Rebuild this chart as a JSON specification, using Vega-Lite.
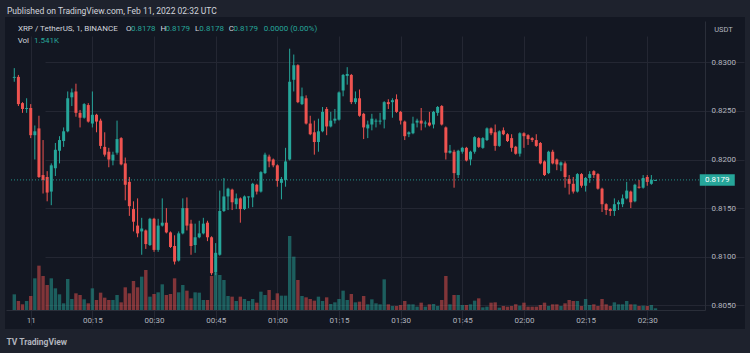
{
  "$schema": "https://vega.github.io/schema/vega-lite/v6.json",
  "width": 740,
  "height": 312,
  "autosize": "none",
  "padding": {"left": 5, "right": 5, "top": 17, "bottom": 24},
  "background": "#1e222d",
  "view": {"fill": "#131722", "stroke": null},
  "config": {"font": "Roboto"},
  "title": {"text": "Published on TradingView.com, Feb 11, 2022 02:32 UTC", "anchor": "start", "frame": "group", "offset": 4, "baseline": "bottom", "dx": 2, "dy": 11, "fontSize": 8.5, "fontWeight": "normal", "color": "#d1d4dc"},
  "data": {"values": [
    {"t":"2022-02-10T23:56:00Z","o":0.8284,"h":0.8294,"l":0.8280,"c":0.8285,"v":14.1},
    {"t":"2022-02-10T23:57:00Z","o":0.8285,"h":0.8287,"l":0.8255,"c":0.8257,"v":8.1},
    {"t":"2022-02-10T23:58:00Z","o":0.8258,"h":0.8259,"l":0.8248,"c":0.8252,"v":5.1},
    {"t":"2022-02-10T23:59:00Z","o":0.8252,"h":0.8263,"l":0.8248,"c":0.8253,"v":8.1},
    {"t":"2022-02-11T00:00:00Z","o":0.8253,"h":0.8257,"l":0.8222,"c":0.8225,"v":12.6},
    {"t":"2022-02-11T00:01:00Z","o":0.8225,"h":0.8235,"l":0.8200,"c":0.8229,"v":28.5},
    {"t":"2022-02-11T00:02:00Z","o":0.8232,"h":0.8245,"l":0.8181,"c":0.8182,"v":39.9},
    {"t":"2022-02-11T00:03:00Z","o":0.8184,"h":0.8220,"l":0.8165,"c":0.8179,"v":30.6},
    {"t":"2022-02-11T00:04:00Z","o":0.8182,"h":0.8188,"l":0.8157,"c":0.8166,"v":22.5},
    {"t":"2022-02-11T00:05:00Z","o":0.8167,"h":0.8196,"l":0.8153,"c":0.8194,"v":28.5},
    {"t":"2022-02-11T00:06:00Z","o":0.8191,"h":0.8217,"l":0.8183,"c":0.8210,"v":19.5},
    {"t":"2022-02-11T00:07:00Z","o":0.8209,"h":0.8224,"l":0.8196,"c":0.8220,"v":14.1},
    {"t":"2022-02-11T00:08:00Z","o":0.8219,"h":0.8233,"l":0.8213,"c":0.8229,"v":6},
    {"t":"2022-02-11T00:09:00Z","o":0.8229,"h":0.8270,"l":0.8228,"c":0.8263,"v":27.9},
    {"t":"2022-02-11T00:10:00Z","o":0.8264,"h":0.8273,"l":0.8255,"c":0.8269,"v":9.9},
    {"t":"2022-02-11T00:11:00Z","o":0.8270,"h":0.8278,"l":0.8244,"c":0.8248,"v":15},
    {"t":"2022-02-11T00:12:00Z","o":0.8248,"h":0.8251,"l":0.8233,"c":0.8243,"v":13.5},
    {"t":"2022-02-11T00:13:00Z","o":0.8243,"h":0.8258,"l":0.8242,"c":0.8257,"v":9.6},
    {"t":"2022-02-11T00:14:00Z","o":0.8256,"h":0.8258,"l":0.8238,"c":0.8239,"v":6},
    {"t":"2022-02-11T00:15:00Z","o":0.8237,"h":0.8270,"l":0.8233,"c":0.8246,"v":19.5},
    {"t":"2022-02-11T00:16:00Z","o":0.8246,"h":0.8247,"l":0.8228,"c":0.8239,"v":9},
    {"t":"2022-02-11T00:17:00Z","o":0.8240,"h":0.8242,"l":0.8211,"c":0.8214,"v":15.6},
    {"t":"2022-02-11T00:18:00Z","o":0.8213,"h":0.8228,"l":0.8203,"c":0.8205,"v":11.1},
    {"t":"2022-02-11T00:19:00Z","o":0.8208,"h":0.8212,"l":0.8192,"c":0.8200,"v":9},
    {"t":"2022-02-11T00:20:00Z","o":0.8199,"h":0.8208,"l":0.8194,"c":0.8205,"v":9},
    {"t":"2022-02-11T00:21:00Z","o":0.8207,"h":0.8240,"l":0.8205,"c":0.8221,"v":13.5},
    {"t":"2022-02-11T00:22:00Z","o":0.8222,"h":0.8223,"l":0.8194,"c":0.8195,"v":6.9},
    {"t":"2022-02-11T00:23:00Z","o":0.8196,"h":0.8202,"l":0.8158,"c":0.8174,"v":20.4},
    {"t":"2022-02-11T00:24:00Z","o":0.8177,"h":0.8182,"l":0.8142,"c":0.8152,"v":15},
    {"t":"2022-02-11T00:25:00Z","o":0.8149,"h":0.8157,"l":0.8126,"c":0.8136,"v":26.1},
    {"t":"2022-02-11T00:26:00Z","o":0.8132,"h":0.8160,"l":0.8120,"c":0.8124,"v":20.4},
    {"t":"2022-02-11T00:27:00Z","o":0.8126,"h":0.8140,"l":0.8102,"c":0.8129,"v":30},
    {"t":"2022-02-11T00:28:00Z","o":0.8127,"h":0.8128,"l":0.8108,"c":0.8113,"v":36},
    {"t":"2022-02-11T00:29:00Z","o":0.8112,"h":0.8140,"l":0.8111,"c":0.8139,"v":12},
    {"t":"2022-02-11T00:30:00Z","o":0.8139,"h":0.8140,"l":0.8105,"c":0.8107,"v":14.4},
    {"t":"2022-02-11T00:31:00Z","o":0.8107,"h":0.8139,"l":0.8105,"c":0.8132,"v":15.9},
    {"t":"2022-02-11T00:32:00Z","o":0.8132,"h":0.8160,"l":0.8131,"c":0.8135,"v":23.1},
    {"t":"2022-02-11T00:33:00Z","o":0.8135,"h":0.8150,"l":0.8124,"c":0.8125,"v":13.5},
    {"t":"2022-02-11T00:34:00Z","o":0.8125,"h":0.8126,"l":0.8109,"c":0.8110,"v":14.4},
    {"t":"2022-02-11T00:35:00Z","o":0.8111,"h":0.8122,"l":0.8092,"c":0.8095,"v":28.5},
    {"t":"2022-02-11T00:36:00Z","o":0.8096,"h":0.8126,"l":0.8095,"c":0.8124,"v":15.9},
    {"t":"2022-02-11T00:37:00Z","o":0.8124,"h":0.8160,"l":0.8123,"c":0.8150,"v":22.5},
    {"t":"2022-02-11T00:38:00Z","o":0.8150,"h":0.8161,"l":0.8127,"c":0.8132,"v":17.4},
    {"t":"2022-02-11T00:39:00Z","o":0.8134,"h":0.8138,"l":0.8102,"c":0.8111,"v":10.5},
    {"t":"2022-02-11T00:40:00Z","o":0.8112,"h":0.8134,"l":0.8104,"c":0.8120,"v":15.9},
    {"t":"2022-02-11T00:41:00Z","o":0.8120,"h":0.8137,"l":0.8119,"c":0.8124,"v":15.6},
    {"t":"2022-02-11T00:42:00Z","o":0.8124,"h":0.8140,"l":0.8123,"c":0.8134,"v":9},
    {"t":"2022-02-11T00:43:00Z","o":0.8135,"h":0.8137,"l":0.8116,"c":0.8120,"v":9},
    {"t":"2022-02-11T00:44:00Z","o":0.8120,"h":0.8121,"l":0.8081,"c":0.8083,"v":30.6},
    {"t":"2022-02-11T00:45:00Z","o":0.8084,"h":0.8114,"l":0.8081,"c":0.8104,"v":33.6},
    {"t":"2022-02-11T00:46:00Z","o":0.8102,"h":0.8168,"l":0.8101,"c":0.8147,"v":31.5},
    {"t":"2022-02-11T00:47:00Z","o":0.8147,"h":0.8181,"l":0.8146,"c":0.8162,"v":27},
    {"t":"2022-02-11T00:48:00Z","o":0.8162,"h":0.8171,"l":0.8148,"c":0.8170,"v":12.6},
    {"t":"2022-02-11T00:49:00Z","o":0.8169,"h":0.8170,"l":0.8148,"c":0.8156,"v":12},
    {"t":"2022-02-11T00:50:00Z","o":0.8154,"h":0.8165,"l":0.8149,"c":0.8160,"v":8.1},
    {"t":"2022-02-11T00:51:00Z","o":0.8160,"h":0.8161,"l":0.8135,"c":0.8149,"v":12},
    {"t":"2022-02-11T00:52:00Z","o":0.8149,"h":0.8163,"l":0.8148,"c":0.8162,"v":9.9},
    {"t":"2022-02-11T00:53:00Z","o":0.8161,"h":0.8162,"l":0.8150,"c":0.8162,"v":8.1},
    {"t":"2022-02-11T00:54:00Z","o":0.8161,"h":0.8176,"l":0.8151,"c":0.8175,"v":9.9},
    {"t":"2022-02-11T00:55:00Z","o":0.8174,"h":0.8175,"l":0.8164,"c":0.8167,"v":6.6},
    {"t":"2022-02-11T00:56:00Z","o":0.8167,"h":0.8188,"l":0.8166,"c":0.8187,"v":16.5},
    {"t":"2022-02-11T00:57:00Z","o":0.8186,"h":0.8207,"l":0.8185,"c":0.8205,"v":13.5},
    {"t":"2022-02-11T00:58:00Z","o":0.8203,"h":0.8205,"l":0.8192,"c":0.8198,"v":18},
    {"t":"2022-02-11T00:59:00Z","o":0.8200,"h":0.8201,"l":0.8192,"c":0.8194,"v":9},
    {"t":"2022-02-11T01:00:00Z","o":0.8194,"h":0.8195,"l":0.8172,"c":0.8178,"v":15},
    {"t":"2022-02-11T01:01:00Z","o":0.8176,"h":0.8182,"l":0.8159,"c":0.8180,"v":12.9},
    {"t":"2022-02-11T01:02:00Z","o":0.8179,"h":0.8212,"l":0.8172,"c":0.8198,"v":12.9},
    {"t":"2022-02-11T01:03:00Z","o":0.8200,"h":0.8314,"l":0.8199,"c":0.8280,"v":66.6},
    {"t":"2022-02-11T01:04:00Z","o":0.8282,"h":0.8308,"l":0.8270,"c":0.8297,"v":48},
    {"t":"2022-02-11T01:05:00Z","o":0.8297,"h":0.8298,"l":0.8258,"c":0.8259,"v":27},
    {"t":"2022-02-11T01:06:00Z","o":0.8257,"h":0.8274,"l":0.8256,"c":0.8265,"v":12.6},
    {"t":"2022-02-11T01:07:00Z","o":0.8263,"h":0.8266,"l":0.8236,"c":0.8237,"v":11.4},
    {"t":"2022-02-11T01:08:00Z","o":0.8237,"h":0.8245,"l":0.8225,"c":0.8226,"v":9.9},
    {"t":"2022-02-11T01:09:00Z","o":0.8228,"h":0.8240,"l":0.8205,"c":0.8218,"v":8.4},
    {"t":"2022-02-11T01:10:00Z","o":0.8218,"h":0.8242,"l":0.8208,"c":0.8229,"v":12},
    {"t":"2022-02-11T01:11:00Z","o":0.8229,"h":0.8254,"l":0.8228,"c":0.8249,"v":8.1},
    {"t":"2022-02-11T01:12:00Z","o":0.8252,"h":0.8254,"l":0.8225,"c":0.8234,"v":11.4},
    {"t":"2022-02-11T01:13:00Z","o":0.8234,"h":0.8249,"l":0.8233,"c":0.8240,"v":5.4},
    {"t":"2022-02-11T01:14:00Z","o":0.8240,"h":0.8252,"l":0.8237,"c":0.8242,"v":6.9},
    {"t":"2022-02-11T01:15:00Z","o":0.8241,"h":0.8270,"l":0.8240,"c":0.8269,"v":9.9},
    {"t":"2022-02-11T01:16:00Z","o":0.8271,"h":0.8288,"l":0.8265,"c":0.8287,"v":17.4},
    {"t":"2022-02-11T01:17:00Z","o":0.8286,"h":0.8295,"l":0.8277,"c":0.8288,"v":9},
    {"t":"2022-02-11T01:18:00Z","o":0.8287,"h":0.8288,"l":0.8257,"c":0.8259,"v":14.4},
    {"t":"2022-02-11T01:19:00Z","o":0.8259,"h":0.8270,"l":0.8257,"c":0.8263,"v":6.9},
    {"t":"2022-02-11T01:20:00Z","o":0.8263,"h":0.8272,"l":0.8244,"c":0.8245,"v":7.5},
    {"t":"2022-02-11T01:21:00Z","o":0.8247,"h":0.8248,"l":0.8221,"c":0.8233,"v":12.6},
    {"t":"2022-02-11T01:22:00Z","o":0.8232,"h":0.8240,"l":0.8222,"c":0.8236,"v":5.1},
    {"t":"2022-02-11T01:23:00Z","o":0.8236,"h":0.8247,"l":0.8230,"c":0.8242,"v":9.6},
    {"t":"2022-02-11T01:24:00Z","o":0.8239,"h":0.8242,"l":0.8233,"c":0.8240,"v":6},
    {"t":"2022-02-11T01:25:00Z","o":0.8239,"h":0.8248,"l":0.8236,"c":0.8240,"v":5.1},
    {"t":"2022-02-11T01:26:00Z","o":0.8241,"h":0.8260,"l":0.8232,"c":0.8259,"v":27.6},
    {"t":"2022-02-11T01:27:00Z","o":0.8259,"h":0.8262,"l":0.8252,"c":0.8257,"v":5.1},
    {"t":"2022-02-11T01:28:00Z","o":0.8259,"h":0.8263,"l":0.8243,"c":0.8261,"v":3.6},
    {"t":"2022-02-11T01:29:00Z","o":0.8262,"h":0.8267,"l":0.8248,"c":0.8249,"v":3.6},
    {"t":"2022-02-11T01:30:00Z","o":0.8249,"h":0.8250,"l":0.8236,"c":0.8240,"v":4.5},
    {"t":"2022-02-11T01:31:00Z","o":0.8239,"h":0.8240,"l":0.8220,"c":0.8224,"v":8.1},
    {"t":"2022-02-11T01:32:00Z","o":0.8226,"h":0.8229,"l":0.8223,"c":0.8228,"v":5.1},
    {"t":"2022-02-11T01:33:00Z","o":0.8227,"h":0.8244,"l":0.8226,"c":0.8237,"v":5.1},
    {"t":"2022-02-11T01:34:00Z","o":0.8238,"h":0.8242,"l":0.8233,"c":0.8240,"v":3},
    {"t":"2022-02-11T01:35:00Z","o":0.8240,"h":0.8253,"l":0.8230,"c":0.8237,"v":6.6},
    {"t":"2022-02-11T01:36:00Z","o":0.8237,"h":0.8240,"l":0.8233,"c":0.8238,"v":3},
    {"t":"2022-02-11T01:37:00Z","o":0.8238,"h":0.8249,"l":0.8234,"c":0.8235,"v":5.1},
    {"t":"2022-02-11T01:38:00Z","o":0.8236,"h":0.8250,"l":0.8232,"c":0.8249,"v":5.4},
    {"t":"2022-02-11T01:39:00Z","o":0.8248,"h":0.8255,"l":0.8245,"c":0.8254,"v":3.6},
    {"t":"2022-02-11T01:40:00Z","o":0.8255,"h":0.8256,"l":0.8235,"c":0.8236,"v":9},
    {"t":"2022-02-11T01:41:00Z","o":0.8233,"h":0.8234,"l":0.8200,"c":0.8207,"v":30.6},
    {"t":"2022-02-11T01:42:00Z","o":0.8207,"h":0.8215,"l":0.8206,"c":0.8209,"v":5.1},
    {"t":"2022-02-11T01:43:00Z","o":0.8208,"h":0.8210,"l":0.8171,"c":0.8186,"v":13.5},
    {"t":"2022-02-11T01:44:00Z","o":0.8184,"h":0.8210,"l":0.8181,"c":0.8209,"v":13.5},
    {"t":"2022-02-11T01:45:00Z","o":0.8208,"h":0.8213,"l":0.8206,"c":0.8212,"v":4.5},
    {"t":"2022-02-11T01:46:00Z","o":0.8212,"h":0.8213,"l":0.8198,"c":0.8199,"v":4.5},
    {"t":"2022-02-11T01:47:00Z","o":0.8200,"h":0.8209,"l":0.8194,"c":0.8208,"v":5.1},
    {"t":"2022-02-11T01:48:00Z","o":0.8208,"h":0.8224,"l":0.8206,"c":0.8223,"v":8.4},
    {"t":"2022-02-11T01:49:00Z","o":0.8222,"h":0.8223,"l":0.8212,"c":0.8213,"v":10.5},
    {"t":"2022-02-11T01:50:00Z","o":0.8212,"h":0.8223,"l":0.8211,"c":0.8222,"v":2.4},
    {"t":"2022-02-11T01:51:00Z","o":0.8220,"h":0.8233,"l":0.8219,"c":0.8232,"v":3},
    {"t":"2022-02-11T01:52:00Z","o":0.8232,"h":0.8233,"l":0.8225,"c":0.8227,"v":6.6},
    {"t":"2022-02-11T01:53:00Z","o":0.8228,"h":0.8236,"l":0.8209,"c":0.8214,"v":6.9},
    {"t":"2022-02-11T01:54:00Z","o":0.8214,"h":0.8230,"l":0.8213,"c":0.8229,"v":2.1},
    {"t":"2022-02-11T01:55:00Z","o":0.8230,"h":0.8233,"l":0.8225,"c":0.8226,"v":3.6},
    {"t":"2022-02-11T01:56:00Z","o":0.8226,"h":0.8227,"l":0.8218,"c":0.8219,"v":3},
    {"t":"2022-02-11T01:57:00Z","o":0.8222,"h":0.8226,"l":0.8208,"c":0.8212,"v":3.6},
    {"t":"2022-02-11T01:58:00Z","o":0.8213,"h":0.8214,"l":0.8205,"c":0.8206,"v":5.1},
    {"t":"2022-02-11T01:59:00Z","o":0.8206,"h":0.8228,"l":0.8203,"c":0.8227,"v":3.9},
    {"t":"2022-02-11T02:00:00Z","o":0.8227,"h":0.8228,"l":0.8212,"c":0.8224,"v":6.6},
    {"t":"2022-02-11T02:01:00Z","o":0.8225,"h":0.8226,"l":0.8215,"c":0.8221,"v":3},
    {"t":"2022-02-11T02:02:00Z","o":0.8222,"h":0.8223,"l":0.8218,"c":0.8220,"v":3},
    {"t":"2022-02-11T02:03:00Z","o":0.8220,"h":0.8226,"l":0.8213,"c":0.8214,"v":3},
    {"t":"2022-02-11T02:04:00Z","o":0.8217,"h":0.8218,"l":0.8195,"c":0.8196,"v":4.5},
    {"t":"2022-02-11T02:05:00Z","o":0.8198,"h":0.8199,"l":0.8183,"c":0.8184,"v":6.6},
    {"t":"2022-02-11T02:06:00Z","o":0.8186,"h":0.8209,"l":0.8185,"c":0.8208,"v":3.6},
    {"t":"2022-02-11T02:07:00Z","o":0.8208,"h":0.8210,"l":0.8195,"c":0.8196,"v":5.1},
    {"t":"2022-02-11T02:08:00Z","o":0.8200,"h":0.8201,"l":0.8189,"c":0.8195,"v":5.1},
    {"t":"2022-02-11T02:09:00Z","o":0.8194,"h":0.8198,"l":0.8188,"c":0.8197,"v":3.6},
    {"t":"2022-02-11T02:10:00Z","o":0.8196,"h":0.8198,"l":0.8171,"c":0.8182,"v":6},
    {"t":"2022-02-11T02:11:00Z","o":0.8180,"h":0.8184,"l":0.8164,"c":0.8175,"v":9},
    {"t":"2022-02-11T02:12:00Z","o":0.8175,"h":0.8182,"l":0.8165,"c":0.8167,"v":8.1},
    {"t":"2022-02-11T02:13:00Z","o":0.8167,"h":0.8186,"l":0.8166,"c":0.8185,"v":8.1},
    {"t":"2022-02-11T02:14:00Z","o":0.8185,"h":0.8186,"l":0.8171,"c":0.8173,"v":3.6},
    {"t":"2022-02-11T02:15:00Z","o":0.8173,"h":0.8182,"l":0.8167,"c":0.8181,"v":9.9},
    {"t":"2022-02-11T02:16:00Z","o":0.8181,"h":0.8188,"l":0.8176,"c":0.8185,"v":4.5},
    {"t":"2022-02-11T02:17:00Z","o":0.8188,"h":0.8189,"l":0.8181,"c":0.8184,"v":5.1},
    {"t":"2022-02-11T02:18:00Z","o":0.8185,"h":0.8186,"l":0.8169,"c":0.8170,"v":3.6},
    {"t":"2022-02-11T02:19:00Z","o":0.8170,"h":0.8171,"l":0.8146,"c":0.8154,"v":9.9},
    {"t":"2022-02-11T02:20:00Z","o":0.8154,"h":0.8155,"l":0.8143,"c":0.8148,"v":5.1},
    {"t":"2022-02-11T02:21:00Z","o":0.8149,"h":0.8150,"l":0.8142,"c":0.8147,"v":3.6},
    {"t":"2022-02-11T02:22:00Z","o":0.8147,"h":0.8160,"l":0.8142,"c":0.8154,"v":6.9},
    {"t":"2022-02-11T02:23:00Z","o":0.8154,"h":0.8158,"l":0.8148,"c":0.8156,"v":5.1},
    {"t":"2022-02-11T02:24:00Z","o":0.8154,"h":0.8164,"l":0.8151,"c":0.8160,"v":5.1},
    {"t":"2022-02-11T02:25:00Z","o":0.8160,"h":0.8177,"l":0.8159,"c":0.8168,"v":8.1},
    {"t":"2022-02-11T02:26:00Z","o":0.8167,"h":0.8168,"l":0.8150,"c":0.8156,"v":5.1},
    {"t":"2022-02-11T02:27:00Z","o":0.8157,"h":0.8175,"l":0.8156,"c":0.8174,"v":5.1},
    {"t":"2022-02-11T02:28:00Z","o":0.8172,"h":0.8179,"l":0.8170,"c":0.8171,"v":3.6},
    {"t":"2022-02-11T02:29:00Z","o":0.8171,"h":0.8184,"l":0.8170,"c":0.8181,"v":3.9},
    {"t":"2022-02-11T02:30:00Z","o":0.8182,"h":0.8184,"l":0.8173,"c":0.8177,"v":3.6},
    {"t":"2022-02-11T02:31:00Z","o":0.8175,"h":0.8184,"l":0.8174,"c":0.8179,"v":4.5},
    {"t":"2022-02-11T02:32:00Z","o":0.8178,"h":0.8179,"l":0.8178,"c":0.8179,"v":1.541}
  ]},
  "resolve": {"scale": {"y": "independent"}},
  "layer": [
    {
      "mark": {"type": "bar", "width": 3.4, "opacity": 0.5},
      "encoding": {
        "x": {
          "field": "t", "type": "temporal",
          "scale": {"type": "utc", "nice": false, "range": [1, 700],
            "domain": [{"year": 2022, "month": 2, "date": 10, "hours": 23, "minutes": 55, "seconds": 12, "utc": true}, {"year": 2022, "month": 2, "date": 11, "hours": 2, "minutes": 42, "seconds": 50, "utc": true}]},
          "axis": {
            "orient": "bottom", "offset": -19,
            "values": [
              {"year": 2022, "month": 2, "date": 11, "hours": 0, "minutes": 0, "utc": true},
              {"year": 2022, "month": 2, "date": 11, "hours": 0, "minutes": 15, "utc": true},
              {"year": 2022, "month": 2, "date": 11, "hours": 0, "minutes": 30, "utc": true},
              {"year": 2022, "month": 2, "date": 11, "hours": 0, "minutes": 45, "utc": true},
              {"year": 2022, "month": 2, "date": 11, "hours": 1, "minutes": 0, "utc": true},
              {"year": 2022, "month": 2, "date": 11, "hours": 1, "minutes": 15, "utc": true},
              {"year": 2022, "month": 2, "date": 11, "hours": 1, "minutes": 30, "utc": true},
              {"year": 2022, "month": 2, "date": 11, "hours": 1, "minutes": 45, "utc": true},
              {"year": 2022, "month": 2, "date": 11, "hours": 2, "minutes": 0, "utc": true},
              {"year": 2022, "month": 2, "date": 11, "hours": 2, "minutes": 15, "utc": true},
              {"year": 2022, "month": 2, "date": 11, "hours": 2, "minutes": 30, "utc": true}
            ],
            "labelExpr": "utchours(datum.value) == 0 && utcminutes(datum.value) == 0 ? '11' : utcFormat(datum.value, '%H:%M')",
            "grid": true, "gridColor": "#242733", "gridWidth": 1,
            "domainColor": "#2a2e39", "ticks": false,
            "labelPadding": 6, "labelColor": "#b2b5be", "labelFontSize": 8, "labelFlush": false, "labelOverlap": false,
            "title": "TV TradingView", "titleAnchor": "start", "titleAlign": "left", "titleBaseline": "middle",
            "titleX": 1, "titleY": 31, "titleColor": "#b2b5be", "titleFontSize": 8.5, "titleFontWeight": "bold"
          }
        },
        "y": {"field": "v", "type": "quantitative", "scale": {"domain": [0, 260], "range": [293, 4], "nice": false}, "axis": null},
        "color": {"condition": {"test": "datum.c >= datum.o", "value": "#26a69a"}, "value": "#ef5350"}
      }
    },
    {
      "layer": [
        {
          "mark": {"type": "rule", "strokeWidth": 1},
          "encoding": {
            "x": {"field": "t", "type": "temporal"},
            "y": {"field": "l", "type": "quantitative",
              "scale": {"domain": [0.804517, 0.834249], "range": [293, 4], "zero": false, "nice": false},
              "axis": {"orient": "right", "offset": -40, "values": [0.805, 0.81, 0.815, 0.82, 0.825, 0.83], "format": ".4f",
                "grid": true, "gridColor": "#242733", "domainColor": "#2a2e39", "ticks": false,
                "labelPadding": 6, "labelColor": "#b2b5be", "labelFontSize": 8, "labelBaseline": "middle", "labelFlush": false,
                "title": "USDT", "titleAngle": 0, "titleX": 18, "titleY": 12, "titleAlign": "center", "titleBaseline": "middle",
                "titleColor": "#b2b5be", "titleFontSize": 7.5, "titleFontWeight": "normal"}},
            "y2": {"field": "h"},
            "color": {"condition": {"test": "datum.c >= datum.o", "value": "#26a69a"}, "value": "#ef5350"}
          }
        },
        {
          "mark": {"type": "bar", "width": 3},
          "encoding": {
            "x": {"field": "t", "type": "temporal"},
            "y": {"field": "o", "type": "quantitative"},
            "y2": {"field": "c"},
            "color": {"condition": {"test": "datum.c >= datum.o", "value": "#26a69a"}, "value": "#ef5350"}
          }
        },
        {
          "data": {"values": [{"p": 0.8179}]},
          "mark": {"type": "rule", "color": "#26a69a", "strokeDash": [1, 2], "strokeWidth": 1, "opacity": 0.85},
          "encoding": {
            "x": {"datum": {"year": 2022, "month": 2, "date": 10, "hours": 23, "minutes": 55, "seconds": 12, "utc": true}, "type": "temporal"},
            "x2": {"datum": {"year": 2022, "month": 2, "date": 11, "hours": 2, "minutes": 42, "seconds": 50, "utc": true}},
            "y": {"field": "p", "type": "quantitative"}
          }
        },
        {
          "data": {"values": [{"p": 0.8179}]},
          "mark": {"type": "point", "shape": "M-1,-0.33L1,-0.33L1,0.33L-1,0.33Z", "size": 1225, "filled": true, "color": "#26a69a", "opacity": 1},
          "encoding": {
            "x": {"datum": {"year": 2022, "month": 2, "date": 11, "hours": 2, "minutes": 47, "seconds": 2, "utc": true}, "type": "temporal"},
            "y": {"field": "p", "type": "quantitative"}
          }
        },
        {
          "data": {"values": [{"p": 0.8179}]},
          "mark": {"type": "text", "color": "#ffffff", "fontSize": 8, "align": "center", "baseline": "middle"},
          "encoding": {
            "x": {"datum": {"year": 2022, "month": 2, "date": 11, "hours": 2, "minutes": 47, "seconds": 2, "utc": true}, "type": "temporal"},
            "y": {"field": "p", "type": "quantitative"},
            "text": {"field": "p", "type": "quantitative", "format": ".4f"}
          }
        },
        {
          "data": {"values": [{"s": "XRP / TetherUS, 1, BINANCE"}]},
          "mark": {"type": "text", "color": "#d1d4dc", "fontSize": 8, "align": "left", "baseline": "middle"},
          "encoding": {
            "x": {"datum": {"year": 2022, "month": 2, "date": 10, "hours": 23, "minutes": 56, "seconds": 53, "utc": true}, "type": "temporal"},
            "y": {"datum": 0.833426, "type": "quantitative"},
            "text": {"field": "s"}
          }
        },
        {
          "data": {"values": [{"s": "O"}]},
          "mark": {"type": "text", "color": "#d1d4dc", "fontSize": 8, "align": "left", "baseline": "middle"},
          "encoding": {
            "x": {"datum": {"year": 2022, "month": 2, "date": 11, "hours": 0, "minutes": 23, "seconds": 11, "utc": true}, "type": "temporal"},
            "y": {"datum": 0.833426, "type": "quantitative"},
            "text": {"field": "s"}
          }
        },
        {
          "data": {"values": [{"s": "0.8178"}]},
          "mark": {"type": "text", "color": "#26a69a", "fontSize": 8, "align": "left", "baseline": "middle"},
          "encoding": {
            "x": {"datum": {"year": 2022, "month": 2, "date": 11, "hours": 0, "minutes": 24, "seconds": 23, "utc": true}, "type": "temporal"},
            "y": {"datum": 0.833426, "type": "quantitative"},
            "text": {"field": "s"}
          }
        },
        {
          "data": {"values": [{"s": "H"}]},
          "mark": {"type": "text", "color": "#d1d4dc", "fontSize": 8, "align": "left", "baseline": "middle"},
          "encoding": {
            "x": {"datum": {"year": 2022, "month": 2, "date": 11, "hours": 0, "minutes": 31, "seconds": 35, "utc": true}, "type": "temporal"},
            "y": {"datum": 0.833426, "type": "quantitative"},
            "text": {"field": "s"}
          }
        },
        {
          "data": {"values": [{"s": "0.8179"}]},
          "mark": {"type": "text", "color": "#26a69a", "fontSize": 8, "align": "left", "baseline": "middle"},
          "encoding": {
            "x": {"datum": {"year": 2022, "month": 2, "date": 11, "hours": 0, "minutes": 32, "seconds": 47, "utc": true}, "type": "temporal"},
            "y": {"datum": 0.833426, "type": "quantitative"},
            "text": {"field": "s"}
          }
        },
        {
          "data": {"values": [{"s": "L"}]},
          "mark": {"type": "text", "color": "#d1d4dc", "fontSize": 8, "align": "left", "baseline": "middle"},
          "encoding": {
            "x": {"datum": {"year": 2022, "month": 2, "date": 11, "hours": 0, "minutes": 39, "seconds": 59, "utc": true}, "type": "temporal"},
            "y": {"datum": 0.833426, "type": "quantitative"},
            "text": {"field": "s"}
          }
        },
        {
          "data": {"values": [{"s": "0.8178"}]},
          "mark": {"type": "text", "color": "#26a69a", "fontSize": 8, "align": "left", "baseline": "middle"},
          "encoding": {
            "x": {"datum": {"year": 2022, "month": 2, "date": 11, "hours": 0, "minutes": 41, "seconds": 1, "utc": true}, "type": "temporal"},
            "y": {"datum": 0.833426, "type": "quantitative"},
            "text": {"field": "s"}
          }
        },
        {
          "data": {"values": [{"s": "C"}]},
          "mark": {"type": "text", "color": "#d1d4dc", "fontSize": 8, "align": "left", "baseline": "middle"},
          "encoding": {
            "x": {"datum": {"year": 2022, "month": 2, "date": 11, "hours": 0, "minutes": 48, "seconds": 12, "utc": true}, "type": "temporal"},
            "y": {"datum": 0.833426, "type": "quantitative"},
            "text": {"field": "s"}
          }
        },
        {
          "data": {"values": [{"s": "0.8179"}]},
          "mark": {"type": "text", "color": "#26a69a", "fontSize": 8, "align": "left", "baseline": "middle"},
          "encoding": {
            "x": {"datum": {"year": 2022, "month": 2, "date": 11, "hours": 0, "minutes": 49, "seconds": 20, "utc": true}, "type": "temporal"},
            "y": {"datum": 0.833426, "type": "quantitative"},
            "text": {"field": "s"}
          }
        },
        {
          "data": {"values": [{"s": "0.0000 (0.00%)"}]},
          "mark": {"type": "text", "color": "#26a69a", "fontSize": 8, "align": "left", "baseline": "middle"},
          "encoding": {
            "x": {"datum": {"year": 2022, "month": 2, "date": 11, "hours": 0, "minutes": 56, "seconds": 40, "utc": true}, "type": "temporal"},
            "y": {"datum": 0.833426, "type": "quantitative"},
            "text": {"field": "s"}
          }
        },
        {
          "data": {"values": [{"s": "Vol"}]},
          "mark": {"type": "text", "color": "#d1d4dc", "fontSize": 8, "align": "left", "baseline": "middle"},
          "encoding": {
            "x": {"datum": {"year": 2022, "month": 2, "date": 10, "hours": 23, "minutes": 56, "seconds": 49, "utc": true}, "type": "temporal"},
            "y": {"datum": 0.832191, "type": "quantitative"},
            "text": {"field": "s"}
          }
        },
        {
          "data": {"values": [{"s": "1.541K"}]},
          "mark": {"type": "text", "color": "#26a69a", "fontSize": 8, "align": "left", "baseline": "middle"},
          "encoding": {
            "x": {"datum": {"year": 2022, "month": 2, "date": 11, "hours": 0, "minutes": 0, "seconds": 47, "utc": true}, "type": "temporal"},
            "y": {"datum": 0.832191, "type": "quantitative"},
            "text": {"field": "s"}
          }
        }
      ]
    }
  ]
}
